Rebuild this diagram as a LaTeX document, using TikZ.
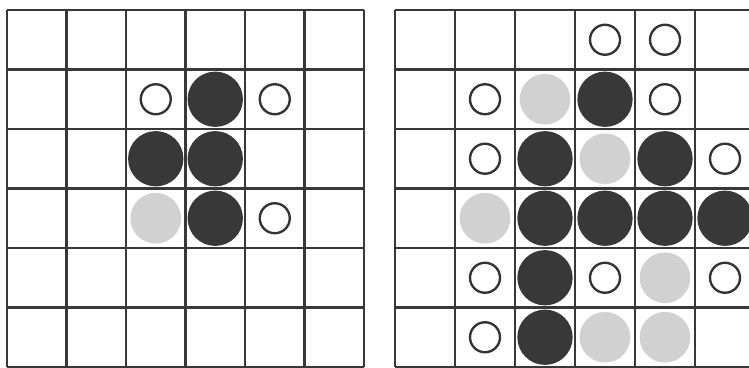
\documentclass[tikz,border=0pt]{standalone}
\usepackage{tikz}
\usetikzlibrary{positioning}

\begin{document}
\begin{tikzpicture}[
    x=0.03cm, y=-0.03cm,
    gridline/.style={draw=black!78, line width=2pt},
    blackstone/.style={circle, fill=black!78, minimum size=1.66cm, inner sep=0pt},
    graystone/.style={circle, fill=black!18, minimum size=1.52cm, inner sep=0pt},
    openmark/.style={circle, draw=black!80, line width=2pt, fill=white, minimum size=0.9cm, inner sep=0pt}
]

\useasboundingbox (0,0) rectangle (749,368);
\clip (0,0) rectangle (749,368);

% Left board
\foreach \i in {0,...,6} {
    \draw[gridline] ({7+59.5*\i},10) -- ({7+59.5*\i},367);
    \draw[gridline] (7,{10+59.5*\i}) -- (364,{10+59.5*\i});
}

% Right board
\foreach \i in {0,...,6} {
    \draw[gridline] ({395+60*\i},10) -- ({395+60*\i},367);
    \draw[gridline] (395,{10+59.5*\i}) -- (760,{10+59.5*\i});
}

% Left board stones
\foreach \c/\r in {3/1, 2/2, 3/2, 3/3}
    \node[blackstone] (L-\c-\r) at ({7+59.5*(\c+0.5)},{10+59.5*(\r+0.5)}) {};
\foreach \c/\r in {2/3}
    \node[graystone] (L-\c-\r) at ({7+59.5*(\c+0.5)},{10+59.5*(\r+0.5)}) {};
\foreach \c/\r in {2/1, 4/1, 4/3}
    \node[openmark] (L-\c-\r) at ({7+59.5*(\c+0.5)},{10+59.5*(\r+0.5)}) {};

% Right board stones
\foreach \c/\r in {3/1, 2/2, 4/2, 2/3, 3/3, 4/3, 5/3, 2/4, 2/5}
    \node[blackstone] (R-\c-\r) at ({395+60*(\c+0.5)},{10+59.5*(\r+0.5)}) {};
\foreach \c/\r in {2/1, 3/2, 1/3, 4/4, 3/5, 4/5}
    \node[graystone] (R-\c-\r) at ({395+60*(\c+0.5)},{10+59.5*(\r+0.5)}) {};
\foreach \c/\r in {3/0, 4/0, 1/1, 4/1, 1/2, 5/2, 1/4, 3/4, 5/4, 1/5}
    \node[openmark] (R-\c-\r) at ({395+60*(\c+0.5)},{10+59.5*(\r+0.5)}) {};

\end{tikzpicture}
\end{document}
